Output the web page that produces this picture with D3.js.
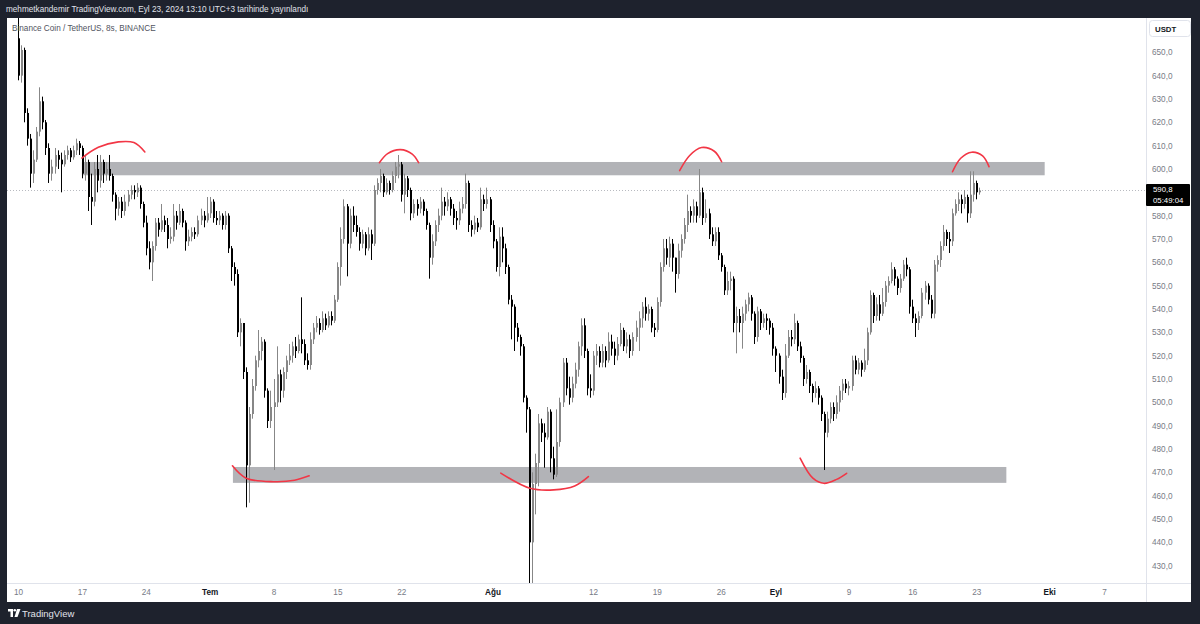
<!DOCTYPE html>
<html>
<head>
<meta charset="utf-8">
<script src="https://cdn.jsdelivr.net/npm/d3@7"></script>
<style>
  body { margin: 0; background: #1e222d; }
  svg { display: block; }
</style>
</head>
<body>
<div id="chart"></div>
<script>
// BNB/USDT 8h candles, Jun 10 -> Sep 23 2024 (open = previous close)
const firstOpen = 656;
const closes = [
  640,651,624, 613,598,604, 616,629,620, 609,598,601, 606,604,602, 606,608,605, 608,611,609,
  598,603,588, 586,600,595, 603,598,600, 597,589,583, 586,582,586, 589,591,590, 592,585,577,
  566,560,567, 577,574,578, 576,570,571, 580,577,582, 577,569,571, 573,572,578, 580,578,581,
  586,579,578, 580,576,580, 566,558,555, 530,534,513, 473,495,507, 518,522,526, 505,492,498,
  500,512,505, 513,518,520, 524,522,527, 525,518,516, 527,532,534, 531,536,533, 537,535,544,
  558,570,584, 568,580,576, 573,568,572, 566,572,568, 591,594,597, 590,594,591, 597,601,602,
  589,596,591, 581,585,583, 586,582,576, 562,569,576, 580,586,584, 587,583,579, 578,583,585,
  594,576,574, 577,575,587, 585,587,576, 569,558,571, 566,558,544, 541,532,528, 524,502,497,
  440,465,474, 491,487,485, 496,476,469, 483,500,517, 506,502,508, 514,524,533, 522,506,505,
  520,522,517, 522,518,526, 523,520,525, 531,524,527, 522,528,532, 536,541,538, 540,532,531,
  543,558,566, 562,568,562, 555,565,570, 576,582,580, 584,580,590, 579,581,572, 569,573,563,
  558,548,552, 553,534,537, 534,538,542, 545,538,528, 539,534,536, 535,532,523, 520,511,504,
  520,528,527, 534,524,519, 510,513,507, 504,506,502, 495,487,493, 498,495,500, 505,508,506,
  507,518,514, 517,514,518, 530,546,537, 542,538,543, 550,552,557, 553,549,553, 559,557,541,
  536,534,537, 547,550,544, 538,559,561, 567,573,570, 569,581,585, 587,585,588, 581,589,594,
  590,590.8
];
const highs = [
  672,653,652, 626,615,608, 618,635,631, 621,611,604, 609,608,607, 608,610,609, 610,613,612,
  610,606,604, 598,603,606, 606,604,603, 606,598,590, 588,588,589, 591,593,593, 594,593,586,
  580,569,569, 579,579,585, 580,579,575, 585,582,585, 583,578,574, 575,575,580, 583,582,588,
  588,587,582, 582,581,582, 581,567,560, 557,536,534, 515,498,510, 520,531,528, 527,506,505,
  510,524,514, 515,520,525, 526,528,529, 545,527,521, 530,534,537, 536,539,538, 539,539,546,
  560,575,587, 585,583,584, 580,575,574, 573,575,574, 593,596,600, 598,596,595, 599,603,606,
  603,598,597, 592,587,587, 588,587,583, 577,572,578, 583,592,588, 590,588,585, 582,586,588,
  598,595,578, 580,579,592, 589,592,588, 578,570,575, 575,568,559, 546,542,534, 529,525,503,
  498,470,478, 495,493,491, 498,497,481, 497,502,519, 519,511,511, 517,526,536, 536,523,512,
  522,525,524, 525,524,530, 529,526,528, 534,532,530, 529,530,535, 539,543,545, 542,541,534,
  545,560,570, 570,571,570, 562,568,572, 579,589,584, 587,586,600, 592,587,583, 575,575,575,
  564,559,556, 556,554,541, 540,541,544, 547,546,539, 541,540,538, 538,536,534, 524,521,514,
  525,531,531, 538,535,526, 520,516,514, 508,509,507, 503,496,496, 500,500,503, 507,510,510,
  509,520,520, 519,518,523, 532,548,547, 545,546,549, 552,554,560, 558,554,555, 561,562,558,
  544,538,539, 549,552,551, 546,561,563, 569,576,574, 573,583,587, 590,589,591, 589,599,599,
  595,592
];
const lows = [
  638,637,620, 610,592,594, 603,614,617, 606,594,595, 598,600,590, 601,604,603, 604,606,606,
  596,595,582, 576,584,590, 592,594,595, 595,586,578, 580,579,580, 584,587,587, 588,583,575,
  563,557,552, 565,571,573, 573,566,568, 569,574,576, 575,565,567, 569,570,571, 576,575,577,
  579,577,576, 576,574,574, 564,552,550, 528,524,510, 455,457,493, 505,515,518, 502,489,489,
  471,498,500, 502,510,516, 517,519,521, 521,516,514, 514,525,530, 529,530,531, 532,533,534,
  543,550,568, 554,566,573, 571,565,566, 563,565,561, 567,589,590, 588,589,589, 590,594,596,
  586,581,588, 578,579,580, 581,580,574, 553,559,567, 573,578,580, 582,580,576, 574,576,581,
  583,573,571, 572,573,574, 582,583,573, 566,556,554, 560,555,542, 527,522,526, 520,500,487,
  400,405,452, 464,483,472, 484,470,467, 468,481,498, 503,499,500, 506,511,520, 519,503,502,
  503,516,515, 515,515,517, 520,516,518, 524,522,521, 519,520,526, 522,532,535, 535,530,528,
  530,541,556, 559,558,556, 547,553,562, 568,573,577, 577,577,579, 576,577,570, 567,567,561,
  556,546,546, 548,530,521, 530,523,535, 539,535,525, 526,531,532, 531,529,520, 513,508,501,
  502,519,524, 525,522,517, 507,508,504, 500,502,499, 492,471,485, 491,492,493, 496,501,504,
  503,505,512, 512,511,513, 516,529,534, 535,535,537, 541,547,551, 550,546,547, 552,554,538,
  534,528,531, 536,544,542, 536,536,556, 558,565,567, 564,567,580, 582,581,583, 577,579,586,
  587,589
];

const lastPrice = 590.8;
const countdown = "05:49:04";
const priceTicks = d3.range(430, 651, 10);
const timeTicks = [
  ["2024-06-10", "10"], ["2024-06-17", "17"], ["2024-06-24", "24"], ["2024-07-01", "Tem"],
  ["2024-07-08", "8"], ["2024-07-15", "15"], ["2024-07-22", "22"], ["2024-08-01", "Ağu"],
  ["2024-08-12", "12"], ["2024-08-19", "19"], ["2024-08-26", "26"], ["2024-09-01", "Eyl"],
  ["2024-09-09", "9"], ["2024-09-16", "16"], ["2024-09-23", "23"], ["2024-10-01", "Eki"],
  ["2024-10-07", "7"]
];
const monthLabels = ["Tem", "Ağu", "Eyl", "Eki"];

// grey support / resistance rectangles (days after Jun 10, price)
const zones = [
  { from: 7.0, to: 112.5, lo: 597.3, hi: 603.0 },
  { from: 23.55, to: 108.3, lo: 465.5, hi: 472.3 }
];
// red hand-drawn arcs [days after Jun 10, price]
const arcs = [
  [[7.0, 604.7], [8.8, 609.3], [11.0, 611.6], [12.7, 611.3], [13.9, 607.3]],
  [[39.6, 602.7], [40.5, 606.6], [41.9, 608.3], [43.2, 606.4], [43.9, 602.7]],
  [[72.5, 599.3], [73.6, 605.8], [74.9, 609.2], [76.3, 607.6], [77.1, 603.1]],
  [[102.4, 598.8], [103.3, 604.6], [104.5, 607.2], [105.7, 605.6], [106.4, 601.0]],
  [[23.5, 472.8], [25.0, 467.5], [28.0, 466.0], [30.3, 466.6], [31.9, 468.5]],
  [[52.9, 469.7], [56.1, 463.2], [58.7, 462.5], [61.0, 464.2], [62.5, 468.2]],
  [[85.7, 476.1], [87.1, 467.5], [88.3, 465.3], [89.7, 467.0], [90.8, 469.6]]
];

const width = 1200, height = 624;
const DAY = 864e5;
const t0 = Date.UTC(2024, 5, 10);
const plot = { left: 7, top: 18, right: 1146, bottom: 583 };
const font = "'Liberation Sans', Arial, sans-serif";

const candles = closes.map((c, i) => {
  const o = i === 0 ? firstOpen : closes[i - 1];
  return { t: new Date(t0 + i * DAY / 3), o: o, c: c,
           h: Math.max(highs[i], o, c), l: Math.min(lows[i], o, c) };
});

const x = d3.scaleUtc()
  .domain([new Date(t0), new Date(Date.UTC(2024, 9, 7))])
  .range([18, 1104]);
const y = d3.scaleLinear().domain([430, 650]).range([565.7, 52.3]);
const dx = d => new Date(t0 + d * DAY);

const svg = d3.select("#chart").append("svg")
  .attr("width", width).attr("height", height)
  .style("font-family", font);

svg.append("rect").attr("width", width).attr("height", height).attr("fill", "#1e222d");

svg.append("text")
  .attr("x", 6).attr("y", 12)
  .attr("fill", "#e0e3eb").attr("font-size", 8.2)
  .text("mehmetkandemir TradingView.com, Eyl 23, 2024 13:10 UTC+3 tarihinde yayınlandı");

svg.append("rect")
  .attr("x", 7).attr("y", 18).attr("width", 1184).attr("height", 584)
  .attr("fill", "#fff");

svg.append("clipPath").attr("id", "plotclip")
  .append("rect")
  .attr("x", plot.left).attr("y", plot.top)
  .attr("width", plot.right - plot.left).attr("height", plot.bottom - plot.top);

const g = svg.append("g").attr("clip-path", "url(#plotclip)");

// zones
g.selectAll(".zone").data(zones).enter().append("rect")
  .attr("x", d => x(dx(d.from)))
  .attr("width", d => x(dx(d.to)) - x(dx(d.from)))
  .attr("y", d => y(d.hi))
  .attr("height", d => y(d.lo) - y(d.hi))
  .attr("fill", "#b2b3b7");

// last price dotted line
g.append("line")
  .attr("x1", plot.left).attr("x2", plot.right)
  .attr("y1", Math.round(y(lastPrice)) + 0.5).attr("y2", Math.round(y(lastPrice)) + 0.5)
  .attr("stroke", "#b8bac0").attr("stroke-dasharray", "1 2");

// candles
const upColor = "#878787", downColor = "#000000";
const cg = g.selectAll(".candle").data(candles).enter().append("g");
cg.append("line")
  .attr("x1", d => Math.round(x(d.t)) + 0.5).attr("x2", d => Math.round(x(d.t)) + 0.5)
  .attr("y1", d => y(d.h)).attr("y2", d => y(d.l))
  .attr("stroke", d => d.c >= d.o ? upColor : downColor).attr("stroke-width", 1);
cg.append("rect")
  .attr("x", d => Math.round(x(d.t)))
  .attr("width", 2)
  .attr("y", d => y(Math.max(d.o, d.c)))
  .attr("height", d => Math.max(1, Math.abs(y(d.o) - y(d.c))))
  .attr("fill", d => d.c >= d.o ? upColor : downColor);

// red arcs
const arcLine = d3.line()
  .x(d => x(dx(d[0]))).y(d => y(d[1]))
  .curve(d3.curveCatmullRom.alpha(0.5));
g.selectAll(".arc").data(arcs).enter().append("path")
  .attr("d", arcLine)
  .attr("fill", "none").attr("stroke", "#f23645")
  .attr("stroke-width", 1.6).attr("stroke-linecap", "round");

// title
svg.append("text")
  .attr("x", 12).attr("y", 31)
  .attr("fill", "#50535e").attr("font-size", 8.2)
  .text("Binance Coin / TetherUS, 8s, BINANCE");

// axes borders
svg.append("line")
  .attr("x1", plot.right + 0.5).attr("x2", plot.right + 0.5)
  .attr("y1", 18).attr("y2", 602).attr("stroke", "#e0e3eb");
svg.append("line")
  .attr("x1", 7).attr("x2", 1191)
  .attr("y1", plot.bottom + 0.5).attr("y2", plot.bottom + 0.5).attr("stroke", "#e0e3eb");

// price axis (the tick under the last-price label is hidden, as in TradingView)
const ly = Math.round(y(lastPrice));
const shownTicks = priceTicks.filter(p => Math.abs(y(p) - (ly + 5)) > 13);
const yAxis = svg.append("g")
  .attr("transform", `translate(${plot.right + 6},0)`)
  .call(d3.axisRight(y).tickValues(shownTicks).tickSize(0)
    .tickFormat(d => d3.format(".1f")(d).replace(".", ",")));
yAxis.select(".domain").remove();
yAxis.selectAll("text")
  .attr("x", 0)
  .attr("fill", "#787b86").attr("font-size", 8.2)
  .attr("font-family", font);

// USDT box
svg.append("rect")
  .attr("x", 1149.5).attr("y", 20.5).attr("width", 41).attr("height", 16).attr("rx", 3)
  .attr("fill", "#fff").attr("stroke", "#e0e3eb");
svg.append("text")
  .attr("x", 1155).attr("y", 31.5)
  .attr("fill", "#131722").attr("font-size", 7.8).attr("font-weight", 600)
  .text("USDT");

// current price label
svg.append("rect")
  .attr("x", plot.right).attr("y", ly - 6).attr("width", 44).attr("height", 22)
  .attr("rx", 1).attr("fill", "#000");
svg.append("text")
  .attr("x", 1153).attr("y", ly + 2)
  .attr("fill", "#fff").attr("font-size", 7.8)
  .text(d3.format(".1f")(lastPrice).replace(".", ","));
svg.append("text")
  .attr("x", 1153).attr("y", ly + 12.5)
  .attr("fill", "#fff").attr("font-size", 7.8)
  .text(countdown);

// time axis
const parse = d3.utcParse("%Y-%m-%d");
const tickDates = timeTicks.map(d => parse(d[0]));
const labelOf = new Map(timeTicks.map(d => [+parse(d[0]), d[1]]));
const xAxis = svg.append("g")
  .attr("transform", `translate(0,${plot.bottom})`)
  .call(d3.axisBottom(x).tickValues(tickDates).tickSize(0)
    .tickFormat(d => labelOf.get(+d)));
xAxis.select(".domain").remove();
xAxis.selectAll("text")
  .attr("dy", 0).attr("y", 12)
  .attr("font-size", 8.2)
  .attr("font-family", font)
  .attr("fill", d => monthLabels.includes(labelOf.get(+d)) ? "#131722" : "#787b86")
  .attr("font-weight", d => monthLabels.includes(labelOf.get(+d)) ? 700 : 400);

// footer logo
const logo = svg.append("g").attr("transform", "translate(8,609)").attr("fill", "#fff");
logo.append("path").attr("d", "M0 0 H5 V8 H2.5 V2.5 H0 Z");
logo.append("circle").attr("cx", 6.8).attr("cy", 1.3).attr("r", 1.3);
logo.append("path").attr("d", "M9 0 H12.5 L9.5 8 H6.5 Z");
svg.append("text")
  .attr("x", 22).attr("y", 617)
  .attr("fill", "#e0e3eb").attr("font-size", 9.5)
  .text("TradingView");
</script>
</body>
</html>
